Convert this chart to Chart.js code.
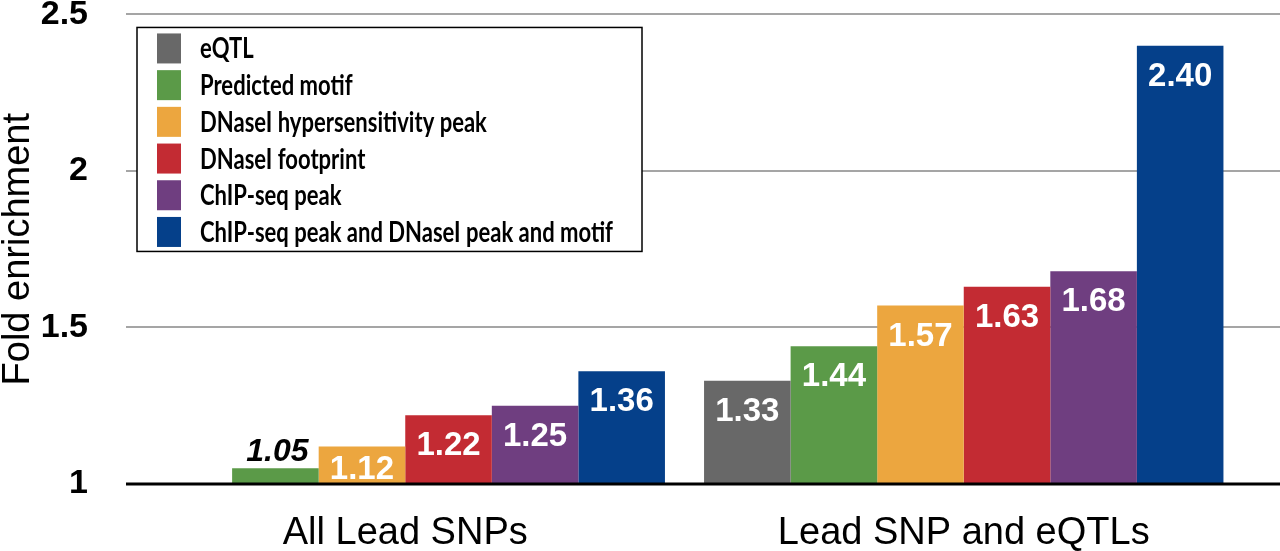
<!DOCTYPE html>
<html>
<head>
<meta charset="utf-8">
<script src="https://cdn.jsdelivr.net/npm/chart.js@4.4.0/dist/chart.umd.min.js"></script>
<style>
  html, body { margin: 0; padding: 0; background: #fff; }
</style>
</head>
<body>
<canvas id="myChart" width="1280" height="551"></canvas>
<script>
// data
const groups = ["All Lead SNPs", "Lead SNP and eQTLs"];
const seriesNames = [
  "eQTL",
  "Predicted motif",
  "DNaseI hypersensitivity peak",
  "DNaseI footprint",
  "ChIP-seq peak",
  "ChIP-seq peak and DNaseI peak and motif",
];
const eqtl = [null, 1.33];
const motif = [1.05, 1.44];
const dnaseHs = [1.12, 1.57];
const footprint = [1.22, 1.63];
const chipSeq = [1.25, 1.68];
const combined = [1.36, 2.40];
const yTicks = [1, 1.5, 2, 2.5];

const colors = ["#686868", "#5b9a48", "#eca63f", "#c32b33", "#6f3e80", "#05408a"];
const seriesValues = [eqtl, motif, dnaseHs, footprint, chipSeq, combined];

// horizontal grid lines run to the right edge of the canvas
const gridLines = {
  id: "gridLines",
  beforeDatasetsDraw(chart) {
    const { ctx, chartArea, scales } = chart;
    ctx.save();
    ctx.strokeStyle = "#a5a5a5";
    ctx.lineWidth = 2;
    yTicks.forEach((v) => {
      if (v === 1) return;
      const py = Math.round(scales.y.getPixelForValue(v));
      ctx.beginPath();
      ctx.moveTo(chartArea.left, py);
      ctx.lineTo(chart.width, py);
      ctx.stroke();
    });
    ctx.restore();
  },
  afterDatasetsDraw(chart) {
    const { ctx, chartArea, scales } = chart;
    const py = scales.y.getPixelForValue(1);
    ctx.save();
    ctx.strokeStyle = "#000";
    ctx.lineWidth = 3;
    ctx.beginPath();
    ctx.moveTo(chartArea.left, py);
    ctx.lineTo(chart.width, py);
    ctx.stroke();
    ctx.restore();
  },
};

// numbers on the bars
const valueLabels = {
  id: "valueLabels",
  afterDatasetsDraw(chart) {
    const ctx = chart.ctx;
    const base = chart.scales.y.getPixelForValue(1);
    ctx.save();
    ctx.textAlign = "center";
    ctx.textBaseline = "alphabetic";
    chart.data.datasets.forEach((ds, i) => {
      chart.getDatasetMeta(i).data.forEach((bar, j) => {
        const v = ds.data[j];
        if (v == null) return;
        const txt = v.toFixed(2);
        if (base - bar.y < 25) {
          ctx.font = "italic bold 32px 'Liberation Sans', Arial, sans-serif";
          ctx.fillStyle = "#000";
          ctx.fillText(txt, bar.x + 2, bar.y - 7);
        } else {
          ctx.font = "bold 33px 'Liberation Sans', Arial, sans-serif";
          ctx.fillStyle = "#fff";
          ctx.fillText(txt, bar.x, Math.min(bar.y + 40, base - 5));
        }
      });
    });
    ctx.restore();
  },
};

// boxed legend inside the plot
const boxLegend = {
  id: "boxLegend",
  afterDraw(chart) {
    const { ctx, chartArea } = chart;
    const x0 = chartArea.left + 11;
    const y0 = chartArea.top + 13;
    ctx.save();
    ctx.fillStyle = "#fff";
    ctx.fillRect(x0, y0, 505, 224);
    ctx.strokeStyle = "#000";
    ctx.lineWidth = 1.5;
    ctx.strokeRect(x0, y0, 505, 224);
    ctx.font = "bold 28px Lato, 'Liberation Sans', sans-serif";
    ctx.textBaseline = "middle";
    ctx.textAlign = "left";
    const longest = Math.max(...chart.data.datasets.map((d) => ctx.measureText(d.label).width));
    const sx = Math.min(1, 413 / longest);
    chart.data.datasets.forEach((ds, i) => {
      const cy = y0 + 21 + i * 36.7;
      ctx.fillStyle = ds.backgroundColor;
      ctx.fillRect(x0 + 20, cy - 15, 24, 30);
      ctx.fillStyle = "#000";
      ctx.save();
      ctx.translate(x0 + 63, cy + 1);
      ctx.scale(sx, 1);
      ctx.fillText(ds.label, 0, 0);
      ctx.restore();
    });
    ctx.restore();
  },
};

const ctx = document.getElementById("myChart").getContext("2d");
const myChart = new Chart(ctx, {
  type: "bar",
  data: {
    labels: groups,
    datasets: seriesNames.map((name, i) => ({
      label: name,
      data: seriesValues[i],
      base: 1,
      backgroundColor: colors[i],
      borderWidth: 0,
      categoryPercentage: 0.93,
      barPercentage: 1.0,
    })),
  },
  options: {
    responsive: false,
    animation: false,
    layout: { padding: { top: 0, right: 37, bottom: 0, left: 0 } },
    plugins: {
      legend: { display: false },
      tooltip: { enabled: false },
    },
    scales: {
      x: {
        grid: { display: false, drawTicks: false },
        border: { display: false },
        ticks: {
          color: "#000",
          padding: 27,
          font: { family: "'Liberation Sans', Arial, sans-serif", size: 38 },
        },
        afterFit: (s) => { s.height = 67; },
      },
      y: {
        min: 1,
        max: 2.5,
        grid: {
          display: true,
          drawOnChartArea: false,
          drawTicks: true,
          tickLength: 38,
          tickColor: "rgba(0,0,0,0)",
        },
        border: { display: false },
        afterBuildTicks: (s) => { s.ticks = yTicks.map((v) => ({ value: v })); },
        ticks: {
          color: "#000",
          padding: 0,
          callback: (v) => String(v),
          font: { family: "'Liberation Sans', Arial, sans-serif", size: 34, weight: "bold", lineHeight: 0.85 },
        },
        title: {
          display: true,
          text: "Fold enrichment",
          color: "#000",
          padding: 0,
          font: { family: "'Liberation Sans', Arial, sans-serif", size: 38, lineHeight: 1 },
        },
        afterFit: (s) => { s.width = 126; },
      },
    },
  },
  plugins: [gridLines, valueLabels, boxLegend],
});
</script>
</body>
</html>
